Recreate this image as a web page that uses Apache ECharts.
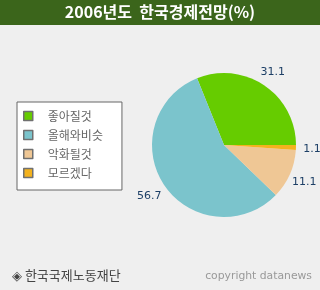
<!DOCTYPE html>
<html><head><meta charset="utf-8">
<script src="https://cdn.jsdelivr.net/npm/echarts@6/dist/echarts.min.js"></script>
<style>html,body{margin:0;padding:0;background:#efefef}#c{width:320px;height:290px}</style>
</head><body><div id="c"></div>
<script>
const titleText = '2006년도  한국경제전망(%)';
const categories = ['좋아질것', '올해와비슷', '악화될것', '모르겠다'];
const values = [31.1, 56.7, 11.1, 1.1];
const colors = ['#66cc00', '#7bc4cc', '#efc795', '#f3b21e'];
const sourceText = '◈ 한국국제노동재단';
const copyrightText = 'copyright datanews';

const data = categories.map((n, i) => ({ name: n, value: values[i], itemStyle: { color: colors[i] } }));
const chart = echarts.init(document.getElementById('c'));
chart.setOption({
  backgroundColor: '#efefef',
  animation: false,
  graphic: [
    { type: 'rect', left: 0, top: 0, shape: { width: 320, height: 25 }, style: { fill: '#3b651b' } },
    { type: 'text', left: 'center', top: 4, style: { text: titleText, fill: '#fff', font: 'bold 16px "Noto Sans CJK KR"' } },
    { type: 'text', left: 12, top: 269, style: { text: sourceText, fill: '#444', font: '13px "Noto Sans CJK KR"' } },
    { type: 'text', right: 8, top: 271, style: { text: copyrightText, fill: '#999', font: '10.8px "DejaVu Sans"' } }
  ],
  legend: {
    orient: 'vertical', left: 17, top: 102,
    data: categories,
    icon: 'rect', itemWidth: 9, itemHeight: 9, itemGap: 5,
    padding: [7, 19, 10, 6],
    backgroundColor: '#ffffff', borderColor: '#666', borderWidth: 1,
    itemStyle: { borderColor: '#707070', borderWidth: 1.5 },
    textStyle: { color: '#666', fontSize: 12, fontFamily: '"Noto Sans CJK KR"', padding: [0, 0, 0, 10], lineHeight: 14 },
    selectedMode: false
  },
  series: [
    {
      type: 'pie', center: [224, 145], radius: 72, startAngle: 0, clockwise: false,
      data: data, label: { show: false }, labelLine: { show: false }, silent: true
    },
    {
      type: 'pie', center: [223, 146], radius: [77, 95], startAngle: 0, clockwise: false,
      data: data.map(d => ({ name: d.name, value: d.value, itemStyle: { color: 'rgba(0,0,0,0)' } })),
      label: { show: true, position: 'inside', rotate: 0, align: 'center', formatter: '{c}', color: '#1d3f66', fontSize: 11, fontFamily: '"DejaVu Sans"' },
      labelLine: { show: false }, silent: true, legendHoverLink: false
    }
  ]
});
</script></body></html>
